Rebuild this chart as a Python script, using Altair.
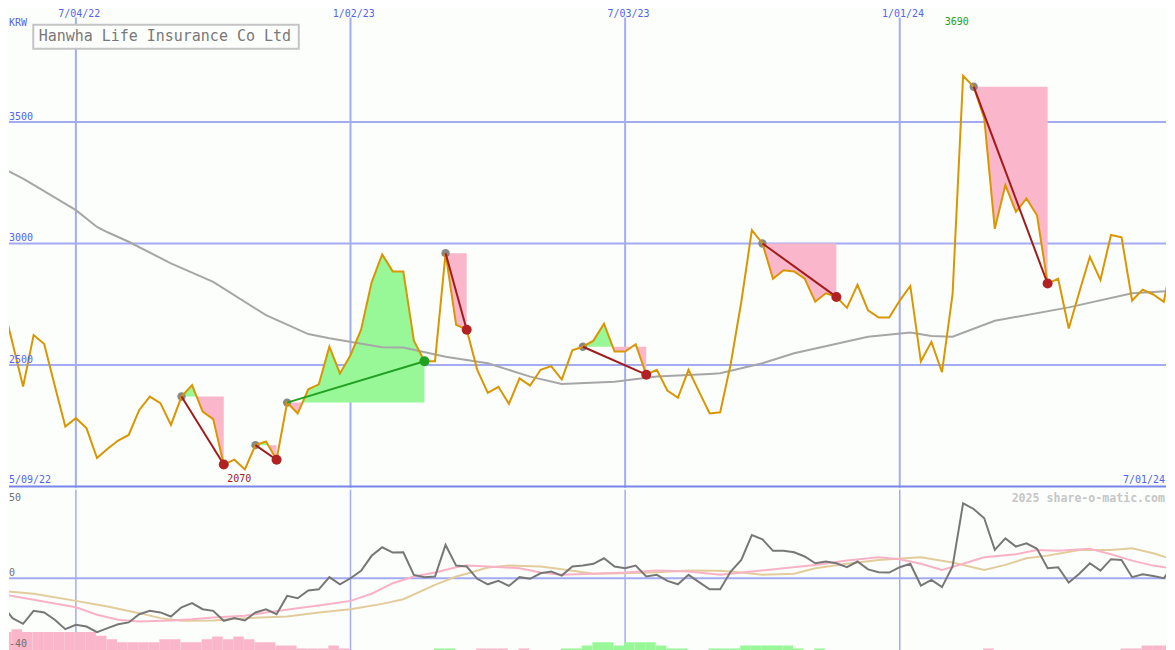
import altair as alt
import pandas as pd

# ---------------- data ----------------
weeks = pd.date_range("2022-05-16", periods=112, freq="7D")

price = [2767, 2590, 2411, 2623, 2586, 2414, 2247, 2281, 2240, 2117,
         2155, 2189, 2212, 2315, 2370, 2343, 2253, 2370, 2417, 2308,
         2277, 2090, 2110, 2070, 2170, 2185, 2110, 2345, 2300, 2400,
         2420, 2575, 2465, 2540, 2645, 2840, 2955, 2885, 2885, 2600,
         2515, 2515, 2960, 2665, 2645, 2480, 2385, 2410, 2340, 2445,
         2415, 2480, 2495, 2440, 2560, 2575, 2600, 2670, 2555, 2555,
         2585, 2460, 2480, 2395, 2365, 2480, 2390, 2300, 2305, 2505,
         2760, 3055, 3000, 2855, 2890, 2885, 2855, 2760, 2795, 2780,
         2735, 2830, 2725, 2695, 2695, 2765, 2825, 2515, 2595, 2470,
         2790, 3690, 3645, 3515, 3060, 3240, 3130, 3185, 3115, 2835,
         2855, 2650, 2800, 2945, 2850, 3035, 3025, 2765, 2810, 2790,
         2760, 2980]

ma_idx = [0, 2, 3, 7, 9, 10, 12, 16, 20, 25, 29, 31, 36, 38, 42, 46, 50, 53, 58, 62,
          67, 68, 72, 75, 82, 86, 88, 90, 94, 101, 107, 111]
ma_val = [3311, 3267, 3241, 3137, 3068, 3046, 3007, 2918, 2842, 2705,
          2627, 2610, 2573, 2572, 2534, 2507, 2452, 2422, 2431, 2452,
          2463, 2466, 2507, 2548, 2616, 2633, 2619, 2616, 2682, 2737,
          2795, 2805]

osc = [-14.9, -22.4, -25.6, -18.3, -19.2, -23.3, -28.6, -26.1, -27.1, -30.3,
       -28.0, -25.8, -24.8, -20.2, -18.3, -19.2, -21.5, -16.3, -14.0, -17.4,
       -18.3, -23.9, -22.4, -23.7, -19.2, -17.4, -20.2, -9.9, -11.2, -6.9,
       -6.2, 0.6, -3.4, 0.0, 4.2, 12.6, 17.4, 14.4, 14.6, 1.9,
       0.6, 1.0, 18.7, 7.1, 6.6, -0.3, -3.4, -1.5, -4.3, 0.6,
       -0.3, 2.8, 3.8, 1.5, 6.6, 7.1, 8.1, 11.2, 6.6, 5.6,
       7.1, 1.0, 1.9, -1.5, -3.4, 1.9, -2.2, -6.2, -6.2, 3.8,
       10.3, 24.3, 21.9, 15.4, 15.5, 14.6, 12.2, 8.4, 9.4, 8.4,
       6.2, 9.4, 5.0, 3.4, 3.2, 6.2, 8.1, -4.1, -0.9, -5.0,
       6.6, 42.1, 38.9, 33.7, 15.9, 22.4, 17.8, 19.6, 16.5, 5.6,
       6.2, -2.4, 2.5, 8.4, 4.3, 10.7, 10.3, 0.6, 2.2, 1.3,
       0.0, 8.1]

pk_idx = [0, 3, 7, 9, 11, 13, 16, 18, 20, 23, 25, 28, 31, 33, 35, 37, 39, 41, 43, 44,
          46, 49, 51, 53, 56, 59, 62, 65, 68, 71, 74, 77, 80, 83, 85, 87, 89, 91, 93, 96,
          98, 100, 103, 105, 107, 109, 111]
pk_val = [-9.0, -12.1, -16.3, -20.5, -23.3, -24.3, -23.7, -23.0, -22.0, -21.1,
          -19.2, -16.8, -14.4, -12.7, -8.7, -2.8, 1.0, 3.2, 6.2, 7.1,
          6.6, 5.6, 3.2, 1.9, 2.5, 3.2, 4.3, 3.8, 1.9, 3.8,
          5.6, 7.5, 9.9, 11.8, 10.7, 8.1, 4.7, 8.1, 11.8, 13.5,
          15.9, 15.5, 16.5, 13.5, 9.9, 7.1, 5.3]

tn_idx = [0, 3, 7, 10, 13, 15, 17, 20, 23, 27, 30, 33, 36, 38, 41, 43, 44, 46, 48, 51,
          53, 56, 59, 62, 65, 68, 70, 72, 75, 77, 80, 83, 87, 90, 93, 95, 97, 99, 102, 105,
          107, 109, 111]
tn_val = [-7.1, -8.7, -12.7, -15.9, -19.6, -22.4, -23.9, -23.7, -22.4, -21.5,
          -19.2, -17.4, -14.4, -11.8, -3.7, 1.0, 2.5, 6.0, 7.1, 6.6,
          5.0, 2.5, 2.8, 3.4, 4.3, 4.2, 3.2, 1.9, 2.5, 5.6,
          8.1, 10.3, 11.8, 8.8, 4.7, 7.5, 11.2, 12.7, 15.9, 15.9,
          16.8, 14.0, 10.3]

# weekly histogram heights above the -40 line (negative = pink, positive = green)
bars = [-9.8, -11.4, -9.8, -9.8, -9.8, -9.8, -9.8, -9.8, -9.8, -7.7,
        -5.8, -4.1, -4.1, -4.1, -4.1, -5.8, -5.8, -4.1, -4.1, -5.8,
        -7.3, -5.8, -7.3, -5.8, -4.1, -4.1, -2.3, -2.3, -0.6, -0.6,
        -0.6, -2.3, -0.6, 0, 0, 0, 0, 0, 0, 0,
        0, 0.6, 0.6, 0, 0, -0.6, -0.6, -0.6, 0, -0.6,
        0, 0, 0, 0.6, 0.6, 2.3, 4.1, 4.1, 2.3, 4.1,
        4.1, 4.1, 2.3, 0.6, 0.6, 0, 0, 0.6, 0.6, 0.6,
        2.3, 2.3, 2.3, 2.3, 2.3, 0.6, 0, 0.6, 0, 0,
        0, 0, 0, 0, 0, 0, 0, 0, 0, 0,
        0, 0, 0, -0.6, 0, 0, 0, 0, 0, 0,
        0, 0, 0, 0, 0, 0, -0.6, -0.6, -2.3, -2.3,
        -2.3, -2.3]

trade_start = [17, 24, 27, 42, 55, 72, 92]
trade_end = [21, 26, 40, 44, 61, 79, 99]
trade_result = ["loss", "loss", "gain", "loss", "loss", "loss", "loss"]

grid_dates = ["2022-07-04", "2023-01-02", "2023-07-03", "2024-01-01"]
grid_labels = ["7/04/22", "1/02/23", "7/03/23", "1/01/24"]
price_ticks = [2500, 3000, 3500]
osc_ticks = [0, -40]
osc_top_tick = 50
range_start_label = "5/09/22"
range_end_label = "7/01/24"
currency = "KRW"
title = "Hanwha Life Insurance Co Ltd"
watermark = "2025 share-o-matic.com"

# ---------------- styles ----------------
BG = "#fcfefc"
GRID = "#a3acf2"
BORDER = "#7886ea"
LBL = "#5564eb"
ORANGE = "#d99600"
MA_C = "#a6a6a6"
PINK = "#fab6ca"
GREEN = "#98f898"
RED_LINE = "#a01c1c"
RED_DOT = "#b22222"
GREEN_LINE = "#22a022"
GRAY_DOT = "#888888"
OSC_C = "#777777"
PK_C = "#f8b2c6"
TN_C = "#e2cc9c"
FONT = "DejaVu Sans Mono"

W = 1159
HU = 480
HL = 162
X_DOM = [-44.33, 722.46]
YU_DOM = [1994.7, 3966.7]
YL_DOM = [-41.1, 49.7]

ORIGIN = pd.Timestamp("2022-07-04")
day = [(w - ORIGIN).days for w in weeks]


def X(field="day"):
    return alt.X(f"{field}:Q", scale=alt.Scale(domain=X_DOM, nice=False, zero=False), axis=None)


def YU(field="p"):
    return alt.Y(f"{field}:Q", scale=alt.Scale(domain=YU_DOM, nice=False, zero=False),
                 axis=None, stack=None)


def YL(field="v"):
    return alt.Y(f"{field}:Q", scale=alt.Scale(domain=YL_DOM, nice=False, zero=False),
                 axis=None, stack=None)


# ---------------- tables ----------------
price_df = pd.DataFrame({"day": day, "p": price})
ma_df = pd.DataFrame({"day": [day[i] for i in ma_idx], "p": ma_val})
grid_df = pd.DataFrame({"day": [(pd.Timestamp(d) - ORIGIN).days for d in grid_dates],
                        "label": grid_labels})
tick_df = pd.DataFrame({"p": price_ticks, "label": [str(t) for t in price_ticks]})

fill_rows = []
for t, (ks, ke) in enumerate(zip(trade_start, trade_end)):
    lvl = price[ks]
    for k in range(ks, ke + 1):
        if k > ks:
            a, b = price[k - 1], price[k]
            if (a - lvl) * (b - lvl) < 0:
                d = day[k - 1] + (day[k] - day[k - 1]) * (lvl - a) / (b - a)
                fill_rows.append({"trade": t, "day": d, "p": lvl, "lvl": lvl})
        fill_rows.append({"trade": t, "day": day[k], "p": price[k], "lvl": lvl})
fill_df = pd.DataFrame(fill_rows)
fill_df["up"] = fill_df[["p", "lvl"]].max(axis=1)
fill_df["dn"] = fill_df[["p", "lvl"]].min(axis=1)

tl_rows = []
for t, (ks, ke, r) in enumerate(zip(trade_start, trade_end, trade_result)):
    tl_rows.append({"trade": t, "day": day[ks], "p": price[ks], "result": r})
    tl_rows.append({"trade": t, "day": day[ke], "p": price[ke], "result": r})
tl_df = pd.DataFrame(tl_rows)
start_df = pd.DataFrame({"day": [day[k] for k in trade_start], "p": [price[k] for k in trade_start]})
end_df = pd.DataFrame({"day": [day[k] for k in trade_end], "p": [price[k] for k in trade_end],
                       "result": trade_result})

i_lo = price.index(min(price))
i_hi = price.index(max(price))
lo_df = pd.DataFrame({"day": [day[i_lo]], "p": [price[i_lo]], "label": [str(price[i_lo])]})
hi_df = pd.DataFrame({"day": [day[i_hi]], "p": [price[i_hi]], "label": [str(price[i_hi])]})

one = pd.DataFrame({"t": [title]})

# ---------------- upper panel ----------------
hgrid = alt.Chart(tick_df).mark_rule(color=GRID, strokeWidth=2).encode(y=YU())
vgrid_u = alt.Chart(grid_df).mark_rule(color=GRID, strokeWidth=2).encode(
    x=X(), y=alt.value(9), y2=alt.value(HU))
border = alt.Chart(pd.DataFrame({"p": [2000]})).mark_rule(color=BORDER, strokeWidth=2).encode(y=YU())

title_box = alt.Chart(one).mark_rect(fill=BG, stroke="#c4c4c4", strokeWidth=2).encode(
    x=alt.value(24.3), x2=alt.value(290.3), y=alt.value(16.3), y2=alt.value(40.3))
title_txt = alt.Chart(one).mark_text(font=FONT, fontSize=15, color="#787878", align="left",
                                     baseline="alphabetic").encode(
    x=alt.value(29.7), y=alt.value(33), text="t:N")

fill_up = alt.Chart(fill_df).mark_area(color=GREEN, clip=True).encode(
    x=X(), y=YU("up"), y2="lvl:Q", detail="trade:N")
fill_dn = alt.Chart(fill_df).mark_area(color=PINK, clip=True).encode(
    x=X(), y=YU("dn"), y2="lvl:Q", detail="trade:N")

ma_line = alt.Chart(ma_df).mark_line(color=MA_C, strokeWidth=2, clip=True).encode(x=X(), y=YU())
start_dots = alt.Chart(start_df).mark_circle(color=GRAY_DOT, opacity=1, size=70).encode(x=X(), y=YU())
price_line = alt.Chart(price_df).mark_line(color=ORANGE, strokeWidth=2, clip=True).encode(x=X(), y=YU())

loss_lines = alt.Chart(tl_df[tl_df["result"] == "loss"]).mark_line(
    strokeWidth=2, color=RED_LINE, clip=True).encode(x=X(), y=YU(), detail="trade:N")
gain_lines = alt.Chart(tl_df[tl_df["result"] == "gain"]).mark_line(
    strokeWidth=2, color=GREEN_LINE, clip=True).encode(x=X(), y=YU(), detail="trade:N")
loss_dots = alt.Chart(end_df[end_df["result"] == "loss"]).mark_circle(
    opacity=1, size=100, color=RED_DOT).encode(x=X(), y=YU())
gain_dots = alt.Chart(end_df[end_df["result"] == "gain"]).mark_circle(
    opacity=1, size=100, color=GREEN_LINE).encode(x=X(), y=YU())

date_lbl = alt.Chart(grid_df).mark_text(font=FONT, fontSize=10, color=LBL, align="center",
                                        baseline="top", dx=3.3).encode(
    x=X(), y=alt.value(0.5), text="label:N")
krw_lbl = alt.Chart(pd.DataFrame({"t": [currency]})).mark_text(
    font=FONT, fontSize=10, color=LBL, align="left", baseline="alphabetic").encode(
    x=alt.value(0), y=alt.value(17), text="t:N")
tick_lbl = alt.Chart(tick_df).mark_text(font=FONT, fontSize=10, color=LBL, align="left",
                                        baseline="alphabetic", dy=-2).encode(
    x=alt.value(0), y=YU(), text="label:N")
start_lbl = alt.Chart(pd.DataFrame({"t": [range_start_label]})).mark_text(
    font=FONT, fontSize=10, color=LBL, align="left", baseline="alphabetic").encode(
    x=alt.value(0), y=alt.value(475.3), text="t:N")
end_lbl = alt.Chart(pd.DataFrame({"t": [range_end_label]})).mark_text(
    font=FONT, fontSize=10, color=LBL, align="right", baseline="alphabetic").encode(
    x=alt.value(W - 1), y=alt.value(475.3), text="t:N")
lo_lbl = alt.Chart(lo_df).mark_text(font=FONT, fontSize=10, color=RED_LINE, align="center",
                                    baseline="alphabetic", dx=-5.6, dy=13).encode(
    x=X(), y=YU(), text="label:N")
hi_lbl = alt.Chart(hi_df).mark_text(font=FONT, fontSize=10, color=GREEN_LINE, align="center",
                                    baseline="alphabetic", dx=-6.3, dy=-50.4).encode(
    x=X(), y=YU(), text="label:N")

upper = alt.layer(hgrid, vgrid_u, border, title_box, title_txt, fill_up, fill_dn, ma_line,
                  start_dots, price_line, loss_lines, gain_lines, loss_dots, gain_dots,
                  date_lbl, krw_lbl, tick_lbl, start_lbl, end_lbl, lo_lbl, hi_lbl
                  ).properties(width=W, height=HU)

# ---------------- lower panel ----------------
osc_df = pd.DataFrame({"day": day, "v": osc})
pk_df = pd.DataFrame({"day": [day[i] for i in pk_idx], "v": pk_val})
tn_df = pd.DataFrame({"day": [day[i] for i in tn_idx], "v": tn_val})
bar_df = pd.DataFrame({"day": day, "h": bars})
bar_df = bar_df[bar_df["h"] != 0].copy()
bar_df["x0"] = bar_df["day"] - 0.7
bar_df["x1"] = bar_df["day"] + 6.3
bar_df["top"] = -40 + bar_df["h"].abs()
bar_df["base"] = -46

vgrid_l = alt.Chart(grid_df).mark_rule(color=GRID, strokeWidth=1.5).encode(x=X())
zero_rule = alt.Chart(pd.DataFrame({"v": [0]})).mark_rule(color=GRID, strokeWidth=2).encode(y=YL())
neg_bars = alt.Chart(bar_df[bar_df["h"] < 0]).mark_rect(clip=True, color=PINK).encode(
    x=X("x0"), x2="x1:Q", y=YL("top"), y2="base:Q")
pos_bars = alt.Chart(bar_df[bar_df["h"] > 0]).mark_rect(clip=True, color=GREEN).encode(
    x=X("x0"), x2="x1:Q", y=YL("top"), y2="base:Q")
tn_line = alt.Chart(tn_df).mark_line(color=TN_C, strokeWidth=2, clip=True).encode(x=X(), y=YL())
pk_line = alt.Chart(pk_df).mark_line(color=PK_C, strokeWidth=2, clip=True).encode(x=X(), y=YL())
osc_line = alt.Chart(osc_df).mark_line(color=OSC_C, strokeWidth=2, clip=True).encode(x=X(), y=YL())

otick_df = pd.DataFrame({"v": osc_ticks, "label": [str(t) for t in osc_ticks]})
otick_lbl = alt.Chart(otick_df).mark_text(font=FONT, fontSize=10, color="#707070", align="left",
                                          baseline="alphabetic", dy=-2.4).encode(
    x=alt.value(0), y=YL(), text="label:N")
otop_lbl = alt.Chart(pd.DataFrame({"v": [osc_top_tick], "label": [str(osc_top_tick)]})).mark_text(
    font=FONT, fontSize=10, color="#707070", align="left", baseline="alphabetic", dy=11.8).encode(
    x=alt.value(0), y=YL(), text="label:N")
wm = alt.Chart(pd.DataFrame({"t": [watermark]})).mark_text(
    font=FONT, fontSize=11.6, fontWeight="bold", color="#c6c6c6", align="right",
    baseline="alphabetic").encode(x=alt.value(W - 1), y=alt.value(12), text="t:N")

lower = alt.layer(vgrid_l, zero_rule, neg_bars, pos_bars, tn_line, pk_line, osc_line,
                  otick_lbl, otop_lbl, wm).properties(width=W, height=HL)

chart = alt.vconcat(upper, lower, spacing=0).properties(
    background=BG, padding=0
).configure_view(strokeWidth=0)

chart.save("out.html", embed_options={"renderer": "svg", "actions": False})
